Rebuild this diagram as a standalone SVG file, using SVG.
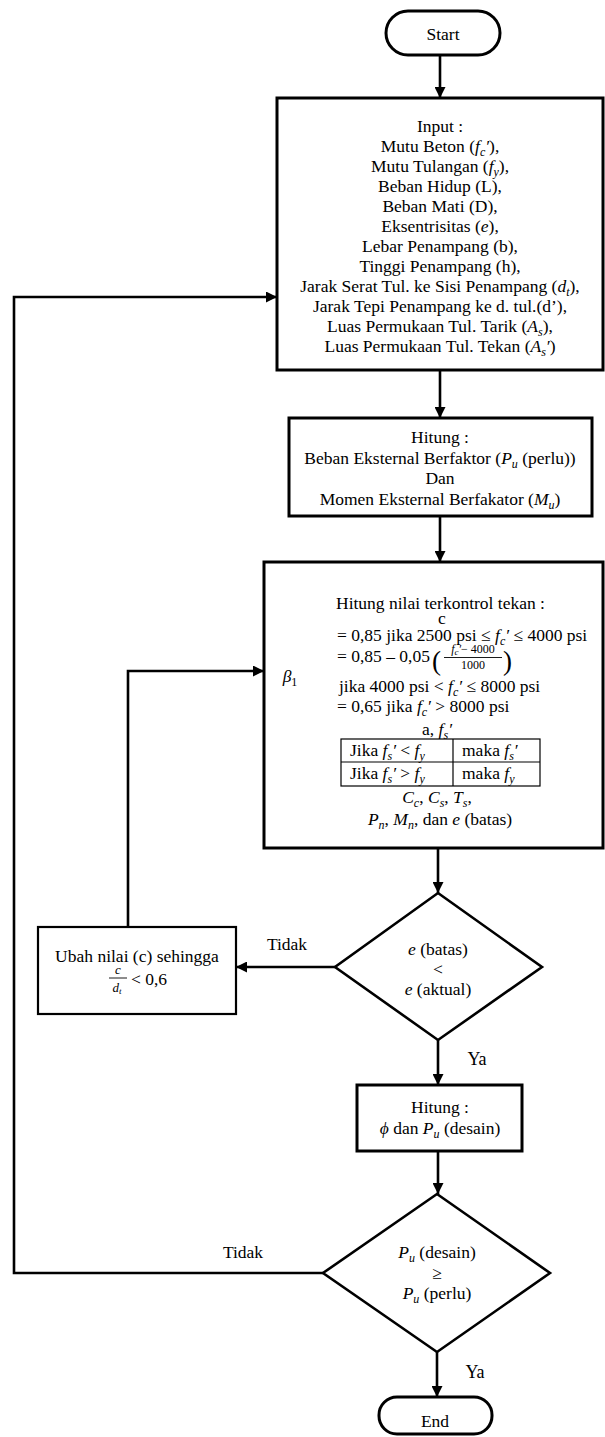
<svg xmlns="http://www.w3.org/2000/svg" width="605" height="1437" viewBox="0 0 605 1437">
<style>
.t{font-family:"Liberation Serif","Times New Roman",serif;font-size:17.5px;fill:#000}
.m{font-style:italic}
.s{font-size:12px}
.box{fill:#fff;stroke:#000;stroke-width:3}
.thin{fill:none;stroke:#000;stroke-width:1.2}
.conn{fill:none;stroke:#000;stroke-width:2.6}
</style>
<defs>
<marker id="arr" viewBox="0 0 10 10" refX="10" refY="5" markerWidth="11" markerHeight="11" markerUnits="userSpaceOnUse" orient="auto"><path d="M0,0 L10,5 L0,10 z" fill="#000"/></marker>
</defs>

<g id="connectors">
<line class="conn" x1="440" y1="55" x2="440" y2="98" marker-end="url(#arr)"/>
<line class="conn" x1="440" y1="370" x2="440" y2="418" marker-end="url(#arr)"/>
<line class="conn" x1="440" y1="516" x2="440" y2="562" marker-end="url(#arr)"/>
<line class="conn" x1="438" y1="848" x2="438" y2="893" marker-end="url(#arr)"/>
<line class="conn" x1="335" y1="967" x2="236" y2="967" marker-end="url(#arr)"/>
<polyline class="conn" points="128,927 128,671 264,671" marker-end="url(#arr)"/>
<line class="conn" x1="438" y1="1040" x2="438" y2="1085" marker-end="url(#arr)"/>
<line class="conn" x1="438" y1="1151" x2="438" y2="1194" marker-end="url(#arr)"/>
<polyline class="conn" points="323,1273 14,1273 14,297 277,297" marker-end="url(#arr)"/>
<line class="conn" x1="437" y1="1352" x2="437" y2="1397" marker-end="url(#arr)"/>
<text class="t" x="287" y="950" text-anchor="middle">Tidak</text>
<text class="t" x="477" y="1065" text-anchor="middle" style="font-size:18px">Ya</text>
<text class="t" x="243" y="1258" text-anchor="middle">Tidak</text>
<text class="t" x="475" y="1378" text-anchor="middle" style="font-size:18px">Ya</text>
</g>

<g id="start">
<rect class="box" x="386" y="11" width="114" height="44" rx="22"/>
<text class="t" x="443" y="40" text-anchor="middle">Start</text>
</g>

<g id="input">
<rect class="box" x="277" y="98" width="326" height="272"/>
<g class="t" text-anchor="middle">
<text x="440" y="132">Input :</text>
<text x="440" y="152">Mutu Beton (<tspan class="m">f</tspan><tspan class="m s" dy="4">c</tspan><tspan class="m" dy="-4">′</tspan>),</text>
<text x="440" y="172">Mutu Tulangan (<tspan class="m">f</tspan><tspan class="m s" dy="4">y</tspan><tspan dy="-4">),</tspan></text>
<text x="440" y="192">Beban Hidup (L),</text>
<text x="440" y="212">Beban Mati (D),</text>
<text x="440" y="232">Eksentrisitas (<tspan class="m">e</tspan>),</text>
<text x="440" y="252">Lebar Penampang (b),</text>
<text x="440" y="272">Tinggi Penampang (h),</text>
<text x="440" y="292">Jarak Serat Tul. ke Sisi Penampang (<tspan class="m">d</tspan><tspan class="m s" dy="4">t</tspan><tspan dy="-4">),</tspan></text>
<text x="440" y="312">Jarak Tepi Penampang ke d. tul.(d’),</text>
<text x="440" y="332">Luas Permukaan Tul. Tarik (<tspan class="m">A</tspan><tspan class="m s" dy="4">s</tspan><tspan dy="-4">),</tspan></text>
<text x="440" y="352">Luas Permukaan Tul. Tekan (<tspan class="m">A</tspan><tspan class="m s" dy="4">s</tspan><tspan class="m" dy="-4">′</tspan>)</text>
</g>
</g>

<g id="hitung1">
<rect class="box" x="289" y="418" width="303" height="98"/>
<g class="t" text-anchor="middle">
<text x="440" y="443">Hitung :</text>
<text x="440" y="464">Beban Eksternal Berfaktor (<tspan class="m">P</tspan><tspan class="m s" dy="4">u</tspan><tspan dy="-4"> (perlu))</tspan></text>
<text x="440" y="484">Dan</text>
<text x="440" y="505">Momen Eksternal Berfakator (<tspan class="m">M</tspan><tspan class="m s" dy="4">u</tspan><tspan dy="-4">)</tspan></text>
</g>
</g>

<g id="hitung2">
<rect class="box" x="264" y="562" width="339" height="286"/>
<g class="t">
<text x="336" y="609">Hitung nilai terkontrol tekan :</text>
<text x="442" y="624" text-anchor="middle">c</text>
<text x="337" y="641">= 0,85 jika 2500 psi ≤ <tspan class="m">f</tspan><tspan class="m s" dy="4">c</tspan><tspan class="m" dy="-4">′</tspan> ≤ 4000 psi</text>
<text x="337" y="662">= 0,85 – 0,05</text>
<text x="432" y="670" style="font-size:27px">(</text>
<text x="473" y="653" text-anchor="middle" style="font-size:12px"><tspan class="m">f</tspan><tspan class="m" style="font-size:9px" dy="2">c</tspan><tspan class="m" dy="-2">′</tspan>− 4000</text>
<line x1="444" y1="657.5" x2="502" y2="657.5" stroke="#000" stroke-width="0.9"/>
<text x="473" y="669" text-anchor="middle" style="font-size:12px">1000</text>
<text x="503" y="670" style="font-size:27px">)</text>
<text x="290" y="682" text-anchor="middle"><tspan class="m">β</tspan><tspan class="s" dy="4">1</tspan></text>
<text x="339" y="692">jika 4000 psi &lt; <tspan class="m">f</tspan><tspan class="m s" dy="4">c</tspan><tspan class="m" dy="-4">′</tspan> ≤ 8000 psi</text>
<text x="337" y="712">= 0,65 jika <tspan class="m">f</tspan><tspan class="m s" dy="4">c</tspan><tspan class="m" dy="-4">′</tspan> &gt; 8000 psi</text>
<text x="437" y="735" text-anchor="middle">a, <tspan class="m">f</tspan><tspan class="m s" dy="4">s</tspan><tspan class="m" dy="-4">′</tspan></text>
<rect class="thin" x="341" y="739" width="199" height="47"/>
<line class="thin" x1="341" y1="762" x2="540" y2="762"/>
<line class="thin" x1="453" y1="739" x2="453" y2="786"/>
<text x="350" y="756">Jika <tspan class="m">f</tspan><tspan class="m s" dy="4">s</tspan><tspan class="m" dy="-4">′</tspan> &lt; <tspan class="m">f</tspan><tspan class="m s" dy="4">y</tspan></text>
<text x="462" y="756">maka <tspan class="m">f</tspan><tspan class="m s" dy="4">s</tspan><tspan class="m" dy="-4">′</tspan></text>
<text x="350" y="779">Jika <tspan class="m">f</tspan><tspan class="m s" dy="4">s</tspan><tspan class="m" dy="-4">′</tspan> &gt; <tspan class="m">f</tspan><tspan class="m s" dy="4">y</tspan></text>
<text x="462" y="779">maka <tspan class="m">f</tspan><tspan class="m s" dy="4">y</tspan></text>
<text x="437" y="803" text-anchor="middle"><tspan class="m">C</tspan><tspan class="m s" dy="4">c</tspan><tspan dy="-4">, </tspan><tspan class="m">C</tspan><tspan class="m s" dy="4">s</tspan><tspan dy="-4">, </tspan><tspan class="m">T</tspan><tspan class="m s" dy="4">s</tspan><tspan dy="-4">,</tspan></text>
<text x="440" y="825" text-anchor="middle"><tspan class="m">P</tspan><tspan class="m s" dy="4">n</tspan><tspan dy="-4">, </tspan><tspan class="m">M</tspan><tspan class="m s" dy="4">n</tspan><tspan dy="-4">, dan </tspan><tspan class="m">e</tspan> (batas)</text>
</g>
</g>

<g id="decision1">
<polygon class="box" style="stroke-width:2.6" points="438,893 542,967 438,1040 335,967"/>
<g class="t" text-anchor="middle">
<text x="438" y="955"><tspan class="m">e</tspan> (batas)</text>
<text x="438" y="975">&lt;</text>
<text x="438" y="995"><tspan class="m">e</tspan> (aktual)</text>
</g>
</g>

<g id="ubah">
<rect class="box" style="stroke-width:2.2" x="38" y="927" width="198" height="87"/>
<g class="t">
<text x="137" y="962" text-anchor="middle">Ubah nilai (c) sehingga</text>
<text x="118" y="974" text-anchor="middle" class="m" style="font-size:13px">c</text>
<line x1="109" y1="978" x2="127" y2="978" stroke="#000" stroke-width="0.9"/>
<text x="117" y="992" text-anchor="middle" style="font-size:13px"><tspan class="m">d</tspan><tspan class="m" style="font-size:9px" dy="2">t</tspan></text>
<text x="131" y="985">&lt; 0,6</text>
</g>
</g>

<g id="hitung3">
<rect class="box" x="357" y="1085" width="165" height="66"/>
<g class="t" text-anchor="middle">
<text x="440" y="1113">Hitung :</text>
<text x="440" y="1134"><tspan class="m">ϕ</tspan> dan <tspan class="m">P</tspan><tspan class="m s" dy="4">u</tspan><tspan dy="-4"> (desain)</tspan></text>
</g>
</g>

<g id="decision2">
<polygon class="box" style="stroke-width:2.6" points="437,1194 550,1273 437,1352 323,1273"/>
<g class="t" text-anchor="middle">
<text x="437" y="1258"><tspan class="m">P</tspan><tspan class="m s" dy="4">u</tspan><tspan dy="-4"> (desain)</tspan></text>
<text x="437" y="1279">≥</text>
<text x="437" y="1299"><tspan class="m">P</tspan><tspan class="m s" dy="4">u</tspan><tspan dy="-4"> (perlu)</tspan></text>
</g>
</g>

<g id="end">
<rect class="box" x="379" y="1397" width="113" height="37" rx="18"/>
<text class="t" x="435" y="1427" text-anchor="middle">End</text>
</g>
</svg>
